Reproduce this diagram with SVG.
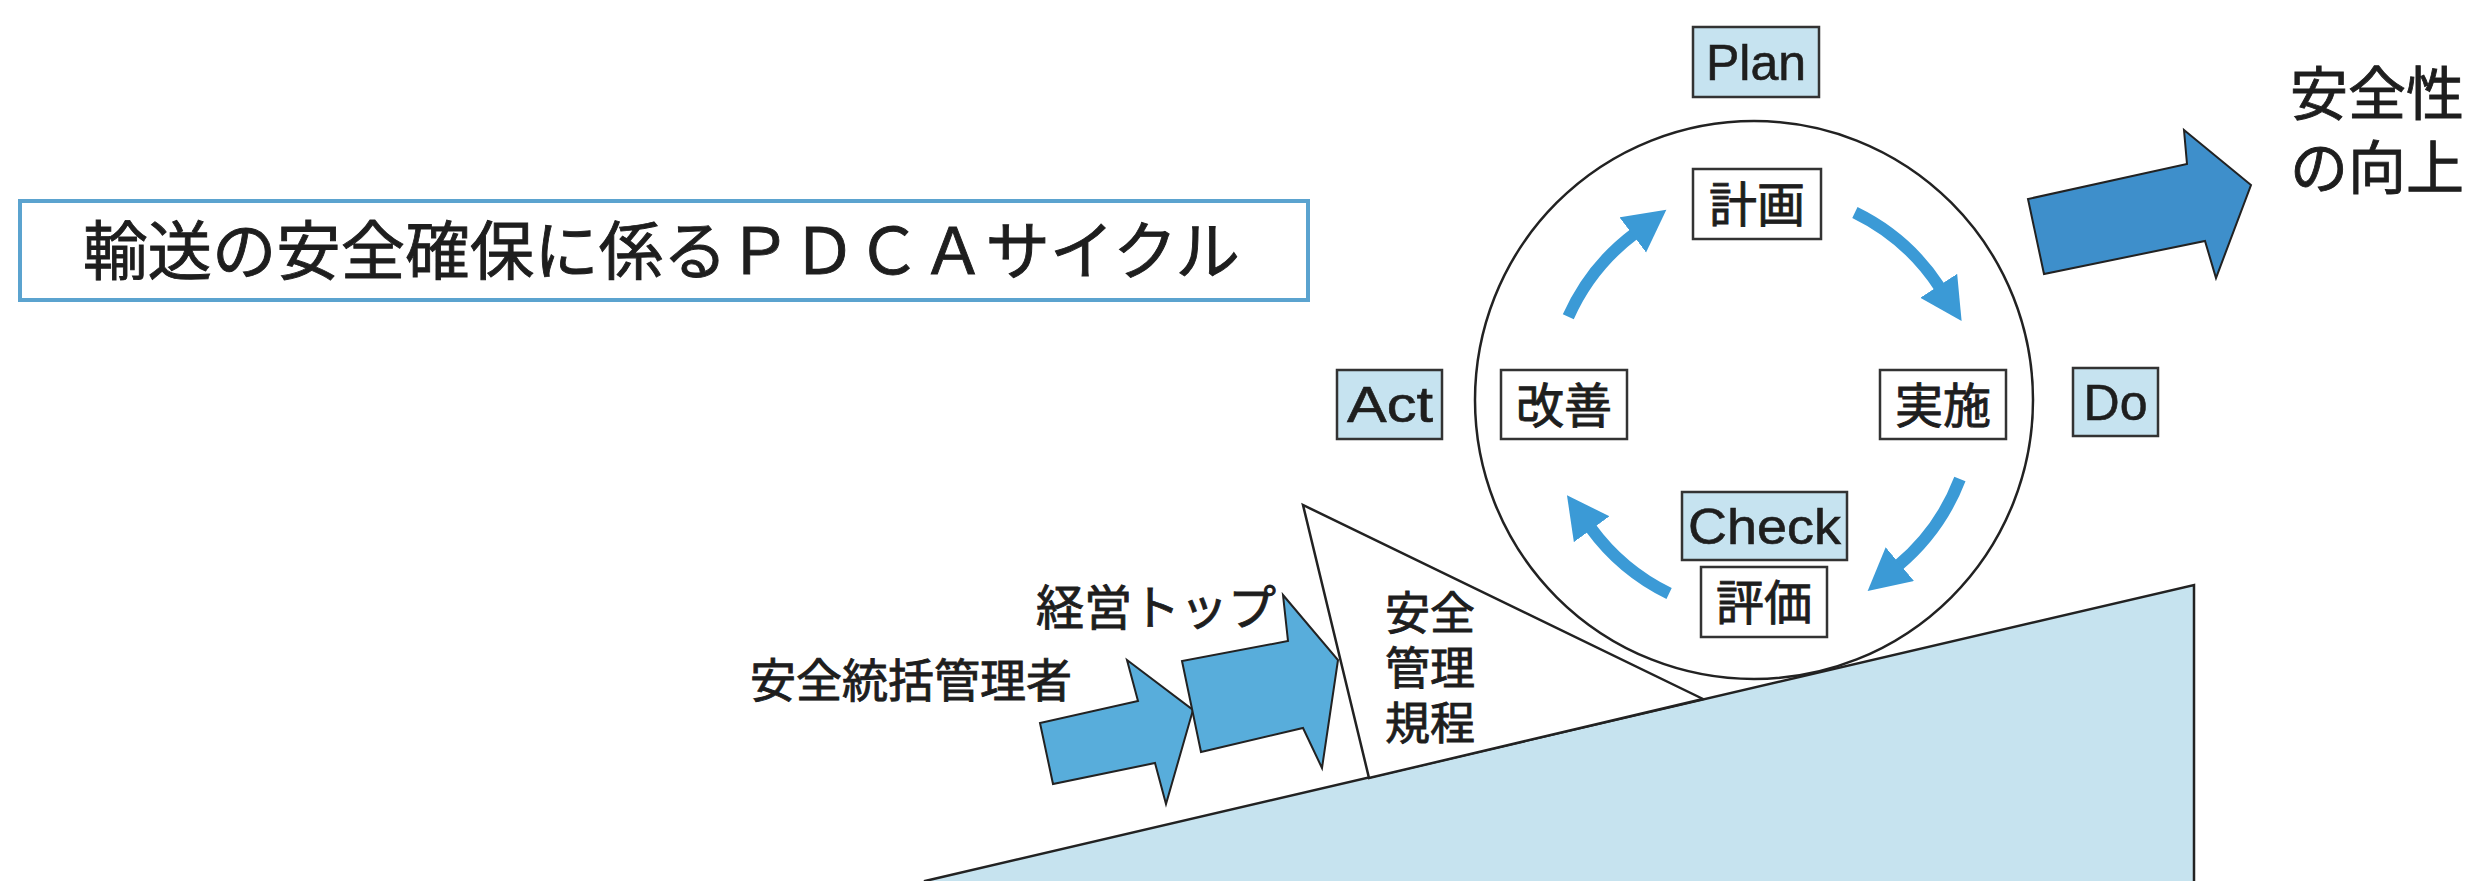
<svg xmlns="http://www.w3.org/2000/svg" width="2477" height="881" viewBox="0 0 2477 881">
<defs>
<style>
.jp{font-family:"Noto Sans CJK JP","Noto Sans",sans-serif;fill:#1e1e1e;stroke:#1e1e1e;stroke-width:0.9;}
.en{font-family:"Liberation Sans",Arial,sans-serif;fill:#1e1e1e;stroke:#1e1e1e;stroke-width:0.6;}
.lbl{fill:#c6e3f0;stroke:#333;stroke-width:2.5;}
.box{fill:#fff;stroke:#333;stroke-width:2.5;}
.cyc{fill:none;stroke:#3b9ad6;stroke-width:12;}
.sarrow{fill:#58addb;stroke:#222;stroke-width:2;stroke-linejoin:miter;}
</style>
<marker id="ah" markerUnits="userSpaceOnUse" markerWidth="50" markerHeight="50" refX="2" refY="22" orient="auto">
<path d="M0,0 L42,22 L0,44 z" fill="#3b9ad6"/>
</marker>
</defs>
<rect width="2477" height="881" fill="#fff"/>

<g id="title">
<rect x="20" y="201" width="1288" height="99" fill="#fff" stroke="#5ba3cf" stroke-width="4"/>
<text class="jp" x="83" y="274" font-size="64" textLength="1157" lengthAdjust="spacingAndGlyphs">輸送の安全確保に係るＰＤＣＡサイクル</text>
</g>

<g id="slope">
<polygon points="925,881 2194,585 2194,890 925,890" fill="#c6e3ef" stroke="#222" stroke-width="2.5"/>
</g>

<g id="wedge">
<polygon points="1303,505 1369,778 1703,699" fill="#fff" stroke="#222" stroke-width="2.5" stroke-linejoin="miter"/>
<text class="jp" font-size="45"><tspan x="1385" y="630">安全</tspan><tspan x="1385" y="685">管理</tspan><tspan x="1385" y="740">規程</tspan></text>
</g>

<g id="cycle-circle">
<circle cx="1754" cy="400" r="279" fill="#fff" stroke="#222" stroke-width="2.5"/>
</g>

<g id="connectors">
<path class="cyc" d="M1568.3,316.8 A212,212 0 0 1 1634.4,233.7" marker-end="url(#ah)"/>
<path class="cyc" d="M1854.9,212.5 A212,212 0 0 1 1939.8,287.5" marker-end="url(#ah)"/>
<path class="cyc" d="M1959.9,479.0 A212,212 0 0 1 1898.3,565.4" marker-end="url(#ah)"/>
<path class="cyc" d="M1669.1,593.5 A212,212 0 0 1 1590.5,527.6" marker-end="url(#ah)"/>
</g>

<g id="manager-arrow">
<polygon class="sarrow" points="1040,723 1053,784 1155,763 1166,804 1193,710 1127,660 1138,701"/>
<text class="jp" x="750" y="697" font-size="46">安全統括管理者</text>
</g>

<g id="top-arrow">
<polygon class="sarrow" points="1182,661 1201,752 1303,728 1322,768 1338,660 1283,595 1288,641"/>
<text class="jp" x="1036" y="625" font-size="48">経営トップ</text>
</g>

<g id="plan">
<rect class="lbl" x="1693" y="27" width="126" height="70"/>
<text class="en" x="1756" y="80" font-size="50" text-anchor="middle">Plan</text>
</g>
<g id="keikaku">
<rect class="box" x="1693" y="169" width="128" height="70"/>
<text class="jp" x="1757" y="222" font-size="48" text-anchor="middle">計画</text>
</g>
<g id="act">
<rect class="lbl" x="1337" y="370" width="105" height="69"/>
<text class="en" x="1390" y="422" font-size="50" text-anchor="middle" textLength="86" lengthAdjust="spacingAndGlyphs">Act</text>
</g>
<g id="kaizen">
<rect class="box" x="1501" y="370" width="126" height="69"/>
<text class="jp" x="1564" y="423" font-size="48" text-anchor="middle">改善</text>
</g>
<g id="jisshi">
<rect class="box" x="1880" y="370" width="126" height="69"/>
<text class="jp" x="1943" y="423" font-size="48" text-anchor="middle">実施</text>
</g>
<g id="do">
<rect class="lbl" x="2073" y="368" width="85" height="68"/>
<text class="en" x="2115.5" y="420" font-size="50" text-anchor="middle">Do</text>
</g>
<g id="check">
<rect class="lbl" x="1682" y="492" width="165" height="68"/>
<text class="en" x="1764.5" y="544" font-size="50" text-anchor="middle" textLength="153" lengthAdjust="spacingAndGlyphs">Check</text>
</g>
<g id="hyoka">
<rect class="box" x="1701" y="567" width="126" height="70"/>
<text class="jp" x="1764" y="620" font-size="48" text-anchor="middle">評価</text>
</g>

<g id="improve-arrow">
<polygon points="2028,199 2044,274 2205,241 2216,278 2251,185 2184,130 2187,164" fill="#3e8fcb" stroke="#222" stroke-width="2"/>
<text class="jp" font-size="58"><tspan x="2290" y="115">安全性</tspan><tspan x="2290" y="189">の向上</tspan></text>
</g>
</svg>
